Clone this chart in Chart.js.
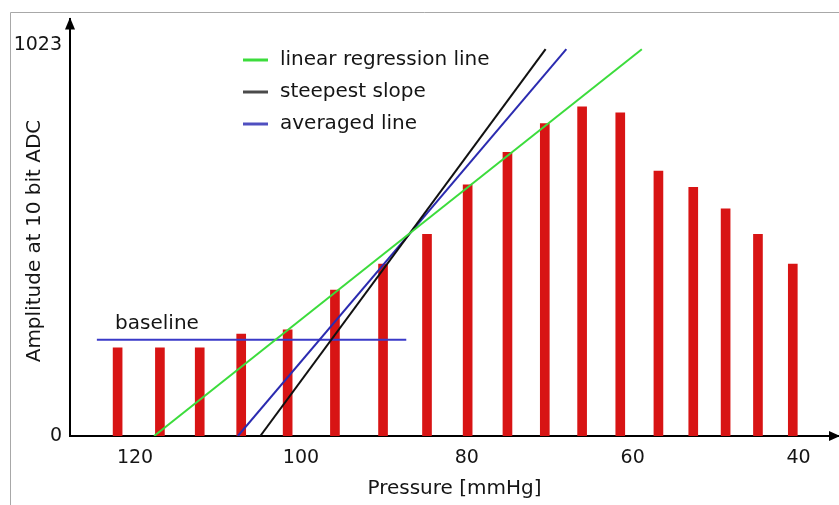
<!DOCTYPE html>
<html>
<head>
<meta charset="utf-8">
<script src="https://cdn.jsdelivr.net/npm/chart.js@4/dist/chart.umd.min.js"></script>
<style>
  html, body { margin: 0; padding: 0; background: #fff; }
  canvas { display: block; }
</style>
</head>
<body>
<canvas id="adc-chart" width="839" height="505"></canvas>
<script>
// pressure of each oscillation pulse [mmHg] and its amplitude [ADC counts]
const pressures = [122.1, 117.0, 112.2, 107.2, 101.6, 95.9, 90.1, 84.8, 79.9,
                   75.1, 70.6, 66.1, 61.5, 56.9, 52.7, 48.8, 44.9, 40.7];
const amplitudes = [231, 231, 231, 267, 278, 382, 450, 528, 658,
                    743, 818, 862, 846, 694, 651, 595, 528, 450];

// straight lines, given by their two end points [pressure, amplitude]
const regressionLine = [[117.7, 0], [58.9, 1013]];
const steepestLine = [[104.9, 0], [70.5, 1013]];
const averagedLine = [[107.6, 0], [68.0, 1013]];
const baselineLine = [[124.6, 252], [87.3, 252]];
const baselineLabelAt = [122.4, 295];

const xTicks = [120, 100, 80, 60, 40];
const yTicks = [0, 1023];

const FONT = 'DejaVu Sans';
const TEXT = '#151515';

function pts(line) {
  return line.map(p => ({ x: p[0], y: p[1] }));
}

const legendItems = [
  { text: 'linear regression line', color: '#3cdc3c' },
  { text: 'steepest slope', color: '#4a4a4a' },
  { text: 'averaged line', color: '#4f4fc0' }
];

// frame, arrow heads, legend, y title and the "baseline" note
const decor = {
  id: 'decor',
  beforeDraw(chart) {
    const ctx = chart.ctx;
    ctx.save();
    ctx.strokeStyle = '#a8a8a8';
    ctx.lineWidth = 1;
    ctx.beginPath();
    ctx.moveTo(10.5, 505);
    ctx.lineTo(10.5, 12.5);
    ctx.lineTo(839, 12.5);
    ctx.stroke();
    ctx.restore();
  },
  afterDraw(chart) {
    const ctx = chart.ctx;
    const a = chart.chartArea;
    const xs = chart.scales.x, ys = chart.scales.y;
    ctx.save();
    ctx.fillStyle = '#000';
    // y arrow
    ctx.beginPath();
    ctx.moveTo(a.left, a.top - 2);
    ctx.lineTo(a.left - 5, a.top + 10);
    ctx.lineTo(a.left + 5, a.top + 10);
    ctx.closePath();
    ctx.fill();
    // x arrow
    ctx.beginPath();
    ctx.moveTo(a.right + 1, a.bottom);
    ctx.lineTo(a.right - 10, a.bottom - 5);
    ctx.lineTo(a.right - 10, a.bottom + 5);
    ctx.closePath();
    ctx.fill();

    // legend
    ctx.font = '20px "' + FONT + '"';
    ctx.textBaseline = 'middle';
    ctx.textAlign = 'left';
    const rows = [60, 92, 124];
    legendItems.forEach((it, i) => {
      ctx.strokeStyle = it.color;
      ctx.lineWidth = 3;
      ctx.beginPath();
      ctx.moveTo(243, rows[i]);
      ctx.lineTo(268, rows[i]);
      ctx.stroke();
      ctx.fillStyle = TEXT;
      ctx.fillText(it.text, 280, rows[i]);
    });

    // baseline note
    ctx.fillStyle = TEXT;
    ctx.fillText('baseline', xs.getPixelForValue(baselineLabelAt[0]), ys.getPixelForValue(baselineLabelAt[1]));

    // y axis title
    ctx.translate(35, 241);
    ctx.rotate(-Math.PI / 2);
    ctx.textAlign = 'center';
    ctx.fillText('Amplitude at 10 bit ADC', 0, 0);
    ctx.restore();
  }
};

new Chart(document.getElementById('adc-chart'), {
  type: 'bar',
  data: {
    datasets: [
      { type: 'line', label: 'linear regression line', data: pts(regressionLine),
        borderColor: '#3cdc3c', borderWidth: 2, pointRadius: 0, order: 1 },
      { type: 'line', label: 'steepest slope', data: pts(steepestLine),
        borderColor: '#111', borderWidth: 2, pointRadius: 0, order: 1 },
      { type: 'line', label: 'averaged line', data: pts(averagedLine),
        borderColor: '#2b2bb0', borderWidth: 2, pointRadius: 0, order: 1 },
      { type: 'line', label: 'baseline', data: pts(baselineLine),
        borderColor: '#3a3ac8', borderWidth: 2, pointRadius: 0, order: 1 },
      { type: 'bar', label: 'amplitude',
        data: pressures.map((p, i) => ({ x: p, y: amplitudes[i] })),
        backgroundColor: '#d81414', barThickness: 9, order: 10 }
    ]
  },
  options: {
    responsive: false,
    devicePixelRatio: 1,
    animation: false,
    layout: { padding: { left: 0, top: 17, right: 0, bottom: 0 } },
    plugins: { legend: { display: false }, tooltip: { enabled: false } },
    scales: {
      x: {
        type: 'linear',
        reverse: true,
        offset: false,
        min: 35.13,
        max: 127.84,
        grid: { display: false, drawTicks: false },
        border: { display: true, color: '#000', width: 2 },
        afterBuildTicks: s => { s.ticks = xTicks.map(v => ({ value: v })); },
        afterFit: s => { s.height = 69; },
        ticks: { color: TEXT, padding: 11, font: { family: FONT, size: 19 },
                 callback: v => String(v) },
        title: { display: true, text: 'Pressure [mmHg]', color: TEXT,
                 padding: { top: 0, bottom: 4 }, font: { family: FONT, size: 20 } }
      },
      y: {
        min: 0,
        max: 1091,
        grid: { display: false, drawTicks: false },
        border: { display: true, color: '#000', width: 2 },
        afterBuildTicks: s => { s.ticks = yTicks.map(v => ({ value: v })); },
        afterFit: s => { s.width = 70; },
        ticks: { color: TEXT, padding: 8, font: { family: FONT, size: 19 },
                 callback: v => String(v) },
        title: { display: false }
      }
    }
  },
  plugins: [decor]
});
</script>
</body>
</html>
